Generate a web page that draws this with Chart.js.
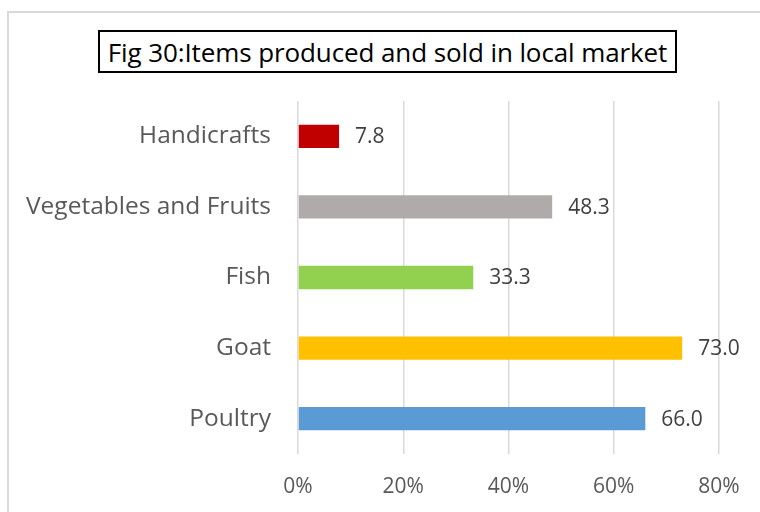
<!DOCTYPE html>
<html>
<head>
<meta charset="utf-8">
<script src="https://cdn.jsdelivr.net/npm/chart.js@4.4.1/dist/chart.umd.min.js"></script>
<style>
  html, body { margin: 0; padding: 0; background: #fff; }
  #wrap { position: relative; width: 760px; height: 512px; overflow: hidden; }
  #frame { position: absolute; left: 7px; top: 11px; width: 800px; height: 560px;
           border: 2px solid #d9d9d9; box-sizing: border-box; }
  #title { position: absolute; left: 98px; top: 30px; width: 579px; height: 43px;
           border: 2px solid #000; box-sizing: border-box; background: #fff;
           font-family: "Open Sans", sans-serif; font-size: 26px; color: #000;
           display: flex; align-items: center; justify-content: center; white-space: nowrap;
           letter-spacing: -0.1px; }
  canvas { position: absolute; left: 0; top: 0; }
</style>
</head>
<body>
<div id="wrap">
  <div id="frame"></div>
  <canvas id="c" width="760" height="512"></canvas>
  <div id="title">Fig 30:Items produced and sold in local market</div>
</div>
<script>
const categories = ["Handicrafts", "Vegetables and Fruits", "Fish", "Goat", "Poultry"];
const shares = [7.8, 48.3, 33.3, 73.0, 66.0];
const barColors = ["#c00000", "#afabab", "#92d050", "#ffc000", "#5b9bd5"];
const tickValues = [0, 20, 40, 60, 80];

const FONT = "'Open Sans', sans-serif";

// Writes each bar's value just past its end
const valueLabels = {
  id: "valueLabels",
  afterDatasetsDraw(chart) {
    const ctx = chart.ctx;
    const meta = chart.getDatasetMeta(0);
    ctx.save();
    ctx.font = "21px " + FONT;
    ctx.fillStyle = "#404040";
    ctx.textAlign = "left";
    ctx.textBaseline = "middle";
    meta.data.forEach((bar, i) => {
      ctx.fillText(shares[i].toFixed(1), bar.x + 16, bar.y + 1);
    });
    ctx.restore();
  }
};

new Chart(document.getElementById("c"), {
  type: "bar",
  data: {
    labels: categories,
    datasets: [{
      data: shares,
      backgroundColor: barColors,
      borderWidth: 0,
      categoryPercentage: 1,
      barPercentage: 0.33
    }]
  },
  options: {
    indexAxis: "y",
    responsive: false,
    animation: false,
    layout: { padding: { left: 0, top: 101, right: 41, bottom: 0 } },
    plugins: { legend: { display: false }, tooltip: { enabled: false }, title: { display: false } },
    scales: {
      x: {
        min: 0, max: 80,
        afterBuildTicks(scale) { scale.ticks = tickValues.map(v => ({ value: v })); },
        afterFit(scale) { scale.height = 58; },
        grid: { color: "#d9d9d9", lineWidth: 1.5, drawTicks: false },
        border: { display: false },
        ticks: {
          padding: 20,
          color: "#595959",
          font: { family: FONT, size: 21 },
          callback: v => v + "%"
        }
      },
      y: {
        afterFit(scale) { scale.width = 298; },
        grid: { display: false, drawTicks: false },
        border: { display: false },
        ticks: {
          padding: 27,
          color: "#595959",
          font: { family: FONT, size: 24.5 }
        }
      }
    }
  },
  plugins: [valueLabels]
});
</script>
</body>
</html>
